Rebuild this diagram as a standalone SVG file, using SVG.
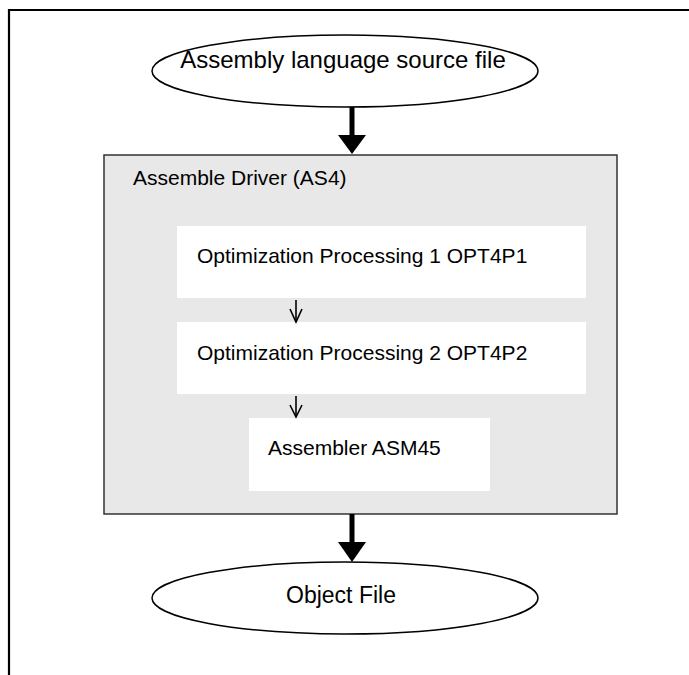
<svg xmlns="http://www.w3.org/2000/svg" width="689" height="675" viewBox="0 0 689 675">
<style>
  .t { font-family: "Liberation Sans", Arial, sans-serif; fill: #000; }
  .ell { fill: #fff; stroke: #000; stroke-width: 1.5; }
  .inner { fill: #fff; stroke: none; }
  .thin { stroke: #000; stroke-width: 1.6; fill: none; }
  .thick { stroke: #000; stroke-width: 5; fill: none; }
</style>
<rect width="689" height="675" fill="#fff"/>
<g id="frame">
  <path d="M9,675 V10 H689" fill="none" stroke="#000" stroke-width="2.2"/>
</g>
<g id="source">
  <ellipse class="ell" cx="345" cy="71" rx="193" ry="36"/>
  <text class="t" x="343" y="68" font-size="24" text-anchor="middle">Assembly language source file</text>
</g>
<g id="driver">
  <rect x="104" y="155" width="513" height="359" fill="#e8e8e8" stroke="#333" stroke-width="1.5"/>
  <text class="t" x="133" y="185" font-size="21">Assemble Driver (AS4)</text>
</g>
<g id="opt1">
  <rect class="inner" x="177" y="226" width="409" height="72"/>
  <text class="t" x="197" y="263" font-size="21">Optimization Processing 1 OPT4P1</text>
</g>
<g id="opt2">
  <rect class="inner" x="177" y="322" width="409" height="72"/>
  <text class="t" x="197" y="360" font-size="21">Optimization Processing 2 OPT4P2</text>
</g>
<g id="asm">
  <rect class="inner" x="249" y="418" width="241" height="73"/>
  <text class="t" x="268" y="455" font-size="21">Assembler ASM45</text>
</g>
<g id="object">
  <ellipse class="ell" cx="345" cy="598" rx="193" ry="36"/>
  <text class="t" x="341" y="603" font-size="23" text-anchor="middle">Object File</text>
</g>
<g id="connectors">
  <line class="thick" x1="352" y1="107" x2="352" y2="136"/>
  <path d="M338,135 L366,135 L352,154 Z" fill="#000"/>
  <line class="thick" x1="352" y1="514" x2="352" y2="543"/>
  <path d="M338,542 L366,542 L352,562 Z" fill="#000"/>
  <line class="thin" x1="296" y1="300" x2="296" y2="322"/>
  <path class="thin" d="M290,309 L296,322 L302,309"/>
  <line class="thin" x1="296" y1="396" x2="296" y2="417"/>
  <path class="thin" d="M290,405 L296,417 L302,405"/>
</g>
</svg>
